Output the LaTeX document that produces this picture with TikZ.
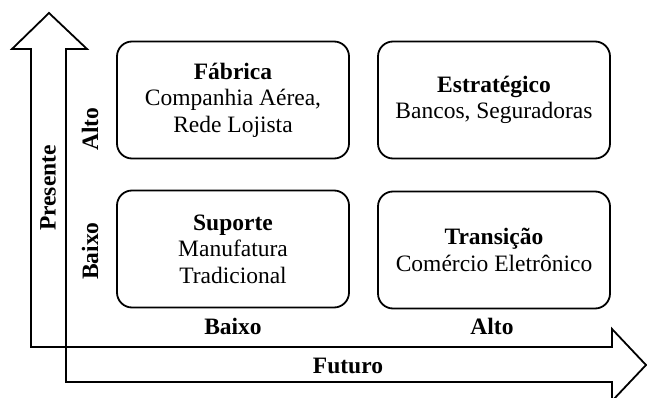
\documentclass[tikz,border=0pt]{standalone}
\usepackage{fontspec}
\setmainfont{Liberation Serif}
\usepackage{tikz}
\usetikzlibrary{calc,positioning}

\begin{document}
\begin{tikzpicture}[x=1pt, y=-1pt, line width=1.8pt,
    quad/.style={draw, rounded corners=15pt, minimum width=232pt, minimum height=117pt, align=center, font=\fontsize{23.5}{26.5}\selectfont},
    lbl/.style={font=\fontsize{23.5}{26}\selectfont\bfseries}]
   \useasboundingbox (0,0) rectangle (647,398);
   % eixos
   \draw[line join=miter] (31,347) -- (31,49) -- (12,49) -- (49,13) -- (87,49) -- (66,49) -- (66,347) -- cycle;
   \draw[line join=miter] (66,347) -- (612,347) -- (612,329) -- (646,365) -- (612,401) -- (612,382) -- (66,382) -- cycle;

   \node[quad] (fab) at (233,100) {\textbf{Fábrica}\\Companhia Aérea,\\Rede Lojista};
   \node[quad] (est) at (494,100) {\textbf{Estratégico}\\Bancos, Seguradoras};
   \node[quad] (sup) at (233,249) {\textbf{Suporte}\\Manufatura\\Tradicional};
   \node[quad] (tra) at (494,250) {\textbf{Transição}\\Comércio Eletrônico};

   \node[lbl, rotate=90] (pres) at (48,188) {Presente};
   \node[lbl, rotate=90] (valto) at (90,129) {Alto};
   \node[lbl, rotate=90] (vbaixo) at (90,251) {Baixo};
   \node[lbl] (hbaixo) at (233,326) {Baixo};
   \node[lbl] (halto) at (492,326) {Alto};
   \node[lbl] (fut) at (348,366) {Futuro};
  \end{tikzpicture}
\end{document}
